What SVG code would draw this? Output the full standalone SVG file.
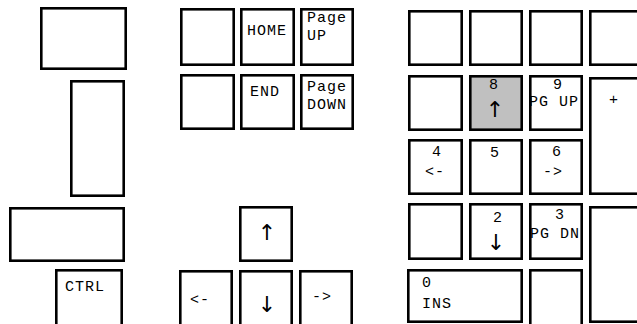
<svg xmlns="http://www.w3.org/2000/svg" width="637" height="324" viewBox="0 0 637 324">
<style>
.k{fill:#fff;stroke:#000;stroke-width:2.6}
.g{fill:#c0c0c0}
text{font-family:"Liberation Mono","DejaVu Sans Mono",monospace;font-size:15px;letter-spacing:1px;fill:#000}
.a{font-family:"DejaVu Sans",sans-serif;font-size:22px;text-anchor:middle;letter-spacing:0}
</style>
<rect width="637" height="324" fill="#fff"/>
<g id="left-top"><rect class="k" x="41.3" y="8.3" width="84.4" height="60.4"/></g>
<g id="left-tall"><rect class="k" x="71.3" y="81.3" width="52.4" height="114.4"/></g>
<g id="left-wide"><rect class="k" x="10.3" y="208.3" width="113.4" height="52.4"/></g>
<g id="ctrl"><rect class="k" x="56.3" y="270.3" width="65.4" height="70"/><text x="65" y="291">CTRL</text></g>

<g id="nav-blank1"><rect class="k" x="181.3" y="9.3" width="52.4" height="55.4"/></g>
<g id="home"><rect class="k" x="241.3" y="9.3" width="52.4" height="55.4"/><text x="247" y="35">HOME</text></g>
<g id="pageup"><rect class="k" x="301.3" y="9.3" width="51.4" height="55.4"/><text x="307" y="22">Page</text><text x="307" y="40">UP</text></g>
<g id="nav-blank2"><rect class="k" x="181.3" y="75.3" width="52.4" height="53.4"/></g>
<g id="end"><rect class="k" x="241.3" y="75.3" width="52.4" height="53.4"/><text x="250" y="96">END</text></g>
<g id="pagedown"><rect class="k" x="301.3" y="75.3" width="51.4" height="53.4"/><text x="307" y="91">Page</text><text x="307" y="109">DOWN</text></g>

<g id="arrow-up"><rect class="k" x="240.3" y="207.3" width="51.4" height="53.4"/><text class="a" x="267" y="240">↑︎</text></g>
<g id="arrow-left"><rect class="k" x="180.3" y="271.3" width="51.4" height="70"/><text x="190" y="304">&lt;-</text></g>
<g id="arrow-down"><rect class="k" x="240.3" y="271.3" width="51.4" height="70"/><text class="a" x="267" y="312">↓︎</text></g>
<g id="arrow-right"><rect class="k" x="300.3" y="271.3" width="51.4" height="70"/><text x="312" y="301">-&gt;</text></g>

<g id="np-r1c1"><rect class="k" x="409.3" y="11.3" width="52.4" height="53.4"/></g>
<g id="np-r1c2"><rect class="k" x="470.3" y="11.3" width="51.4" height="53.4"/></g>
<g id="np-r1c3"><rect class="k" x="530.3" y="11.3" width="51.4" height="53.4"/></g>
<g id="np-r1c4"><rect class="k" x="590.3" y="11.3" width="60" height="53.4"/></g>

<g id="np-r2c1"><rect class="k" x="409.3" y="76.3" width="52.4" height="53.4"/></g>
<g id="np-8"><rect class="k g" x="470.3" y="76.3" width="51.4" height="53.4"/><text x="489" y="89">8</text><text class="a" x="495" y="117">↑︎</text></g>
<g id="np-9"><rect class="k" x="530.3" y="76.3" width="51.4" height="53.4"/><text x="553" y="89">9</text><text x="529" y="106">PG UP</text></g>
<g id="np-plus"><rect class="k" x="590.3" y="78.3" width="60" height="115.4"/><text x="609" y="104">+</text></g>

<g id="np-4"><rect class="k" x="409.3" y="140.3" width="52.4" height="53.4"/><text x="432" y="156">4</text><text x="425" y="176">&lt;-</text></g>
<g id="np-5"><rect class="k" x="470.3" y="140.3" width="51.4" height="53.4"/><text x="490" y="157">5</text></g>
<g id="np-6"><rect class="k" x="530.3" y="140.3" width="51.4" height="53.4"/><text x="552" y="156">6</text><text x="543" y="176">-&gt;</text></g>

<g id="np-r4c1"><rect class="k" x="409.3" y="204.3" width="52.4" height="54.4"/></g>
<g id="np-2"><rect class="k" x="470.3" y="204.3" width="51.4" height="54.4"/><text x="493" y="222">2</text><text class="a" x="496" y="250">↓︎</text></g>
<g id="np-3"><rect class="k" x="530.3" y="204.3" width="51.4" height="54.4"/><text x="555" y="219">3</text><text x="530" y="238">PG DN</text></g>
<g id="np-enter"><rect class="k" x="590.3" y="207.3" width="60" height="114.4"/></g>

<g id="np-0"><rect class="k" x="408.3" y="270.3" width="113.4" height="51.4"/><text x="422" y="287">0</text><text x="422" y="308">INS</text></g>
<g id="np-dot"><rect class="k" x="530.3" y="270.3" width="51.4" height="60"/></g>
</svg>
